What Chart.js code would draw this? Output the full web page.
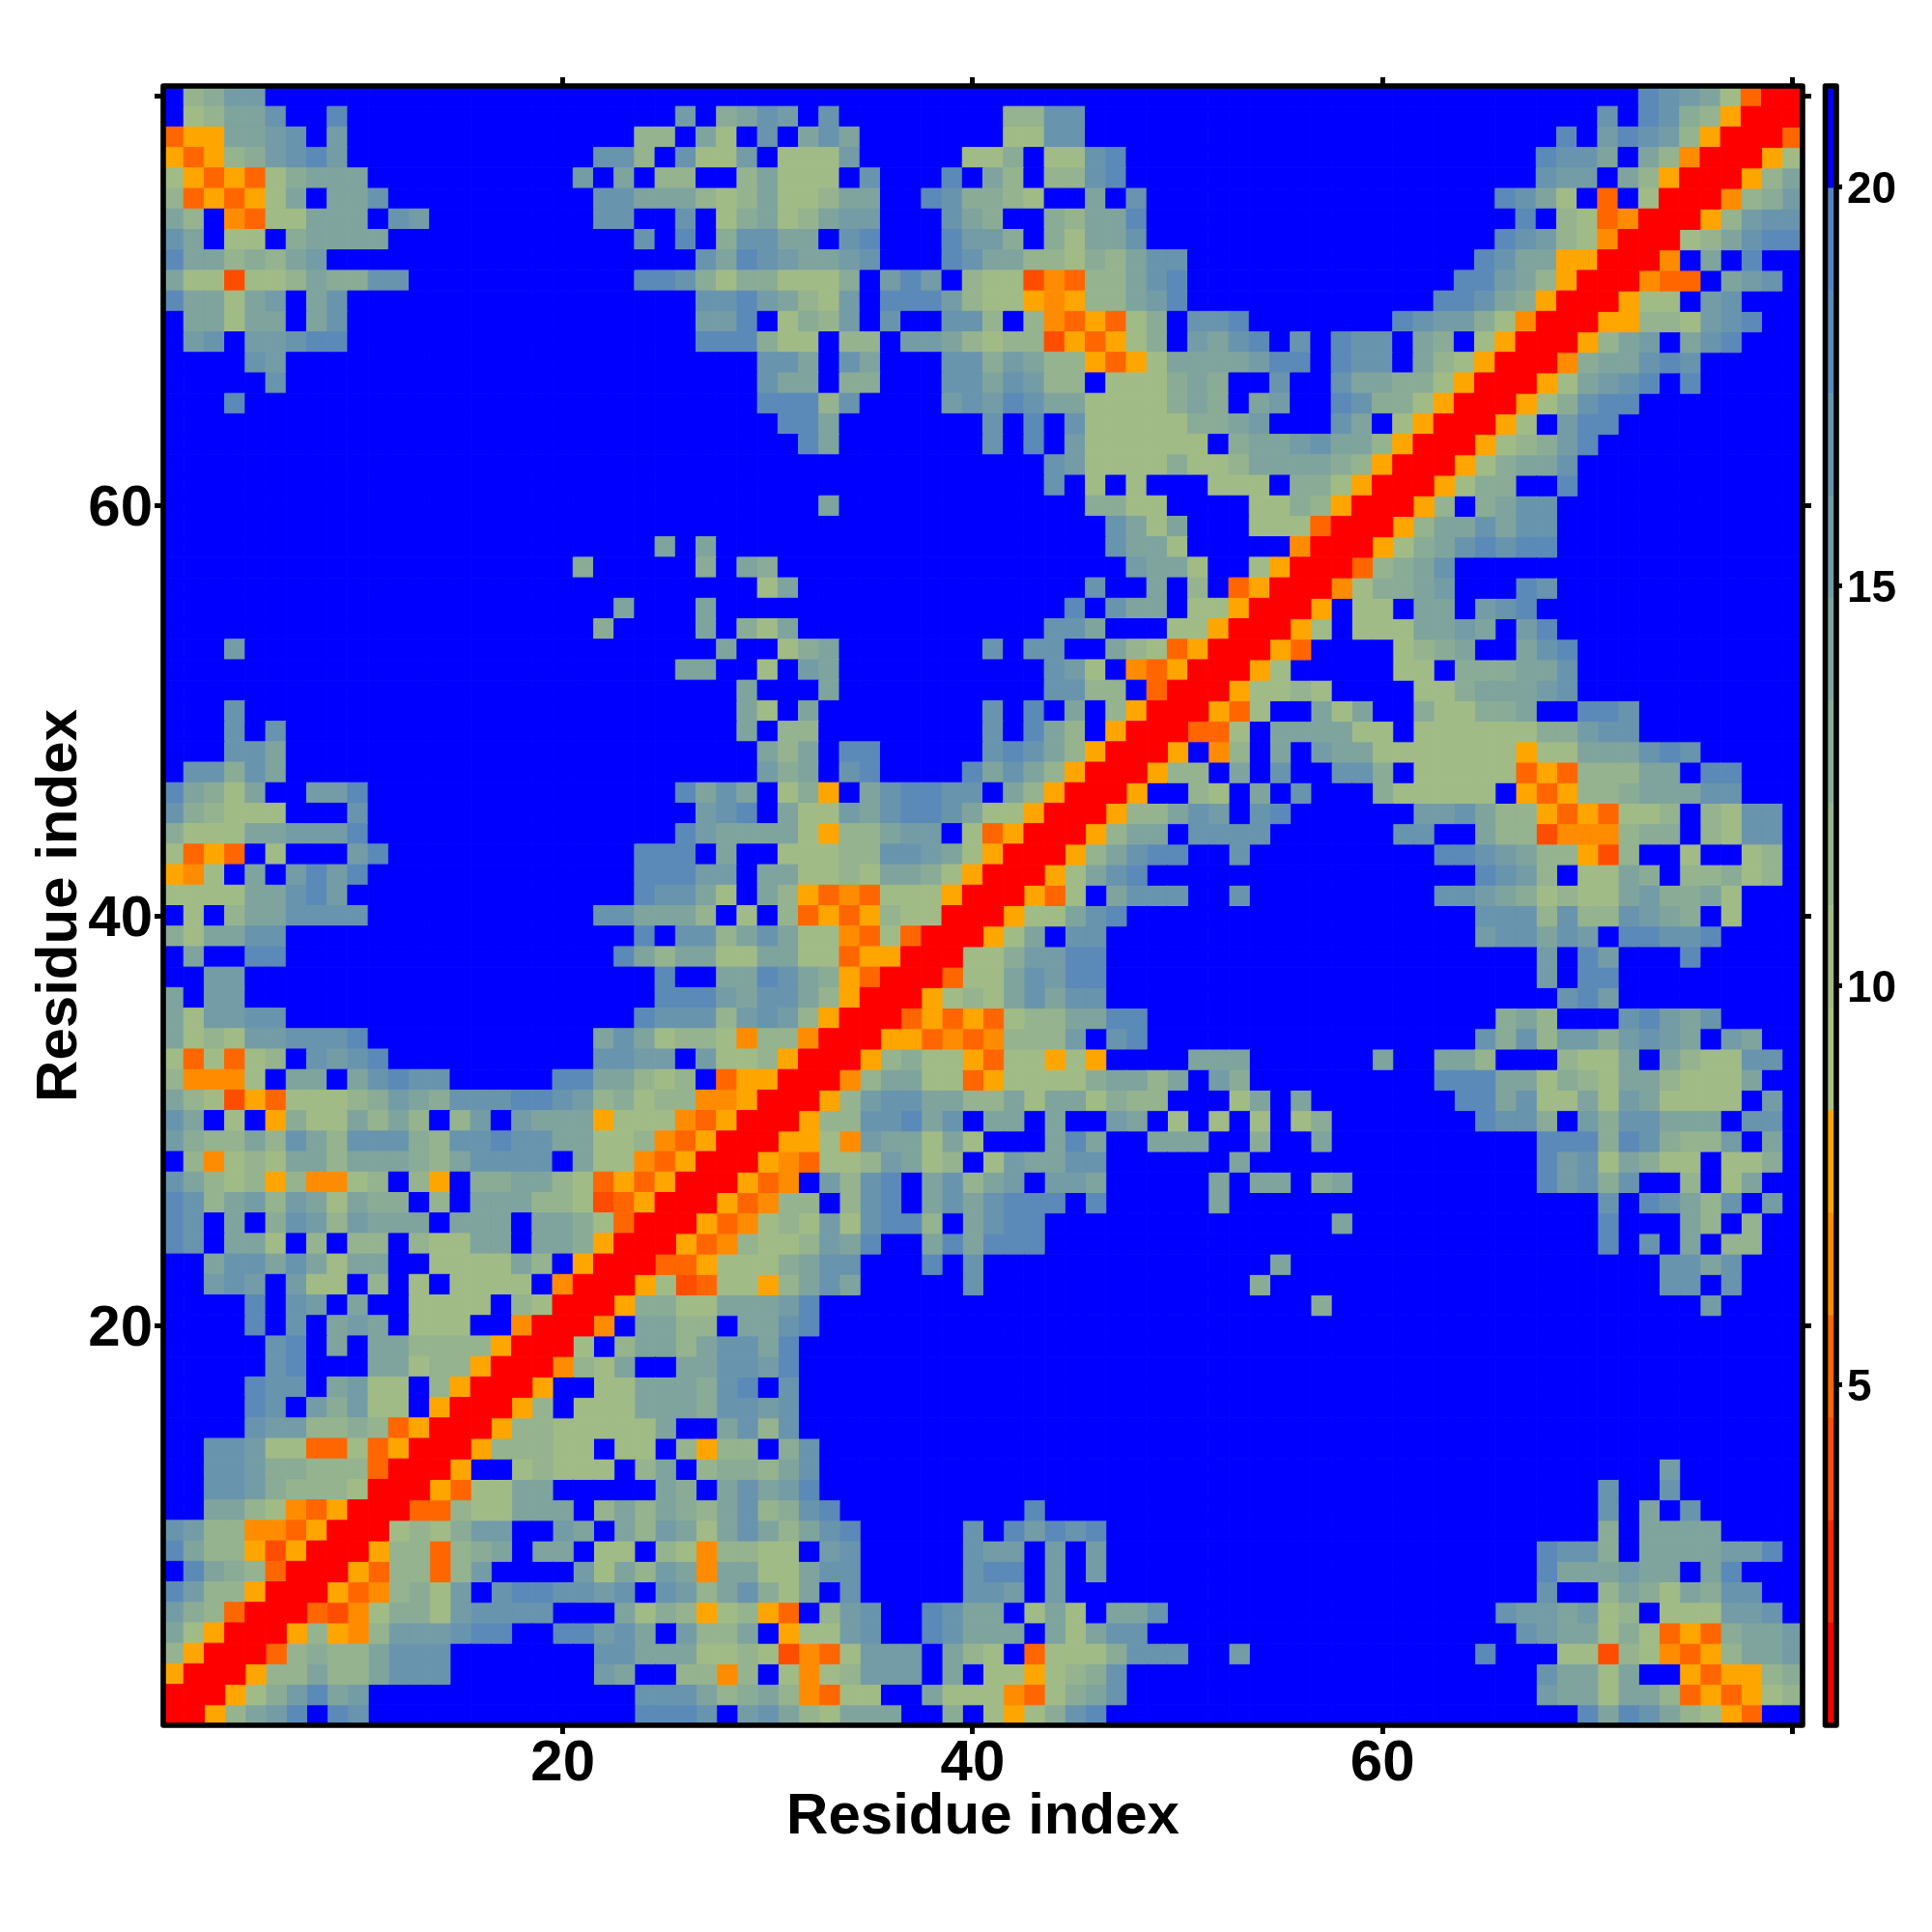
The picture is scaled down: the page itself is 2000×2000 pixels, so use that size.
<!DOCTYPE html>
<html>
<head>
<meta charset="utf-8">
<title>Residue distance map</title>
<script src="https://cdn.jsdelivr.net/npm/chart.js@4"></script>
<style>
    html, body { margin: 0; padding: 0; background: #fff; }
    #wrap { position: relative; width: 2000px; height: 2000px; }
    #map { position: absolute; left: 0; top: 0; }
    #bar { position: absolute; left: 1880px; top: 0; }
</style>
</head>
<body>
<div id="wrap">
    <canvas id="map" width="2000" height="2000"></canvas>
    <canvas id="bar" width="120" height="2000"></canvas>
</div>
<script>
// Colour band of every cell, one row per residue from 80 down to 1.
// The map is symmetric, so a row only holds columns 1..y. Digits are grouped in nines, f is the top band.
const levelRows = [
    "f89bbffff fffffffff fffffffff fffffffff fffffffff fffffffff fffffffff fffffffff dcba7300",
    "f78aacffd fffffffff fffffffbf 9acbfcfff fffff88cc fffffffff fffffffff fffffffcf dc98500",
    "355aabcfb fffffffff fffff88fa 7fcfacaff fffff77cc fffffffff fffffffff fffffdfbd cb8500",
    "53589bcdb fffffffff fffcc8fc7 7bf777bff fff779f77 cdfffffff fffffffff ffffdccaf a8400",
    "7535379aa affffffff ffbfaf88f f8a777fcf ffdfa8f88 cdfffffff fffffffff ffffcbbfa 8500",
    "835357afa acfffffff fffccaaa8 78a778aaf fdc9987ff afcffffff fffffffff ffdca7f3f 700",
    "a8f4377aa afcbfffff fffccffcf 79a78abbf ffca9ff98 aadffffff fffffffff fffdf8734 00",
    "caf77f9aa aafffffff fffffcfdf 9ccaafcdf ffdbb9f97 aacffffff fffffffff ffdcb8740 0",
    "daa898abf fffffffff ffffffffc adcbaabcf ffdcaa887 98accffff fffffffff fdcaa5500",
    "a772778a9 9ccffffff fffffddc9 7997779fb dbf877243 88acdffff fffffffff ddba8500",
    "daa7abfac fffffffff ffffffffc cdba87bfd ddb877545 88abdffff ffffffffd dca9500",
    "faa7aafac fffffffff ffffffffb bdf798bfc ffcc8f843 5379fccdf ffffffdcb b97400",
    "fbcfbbcdd fffffffff ffffffffd dd977f88f bba878825 3579fbacd fcfdccfa9 f7500",
    "ffffcbfff fffffffff fffffffff ffccafcaf ffcc9ba88 5357aaaab ddfdccfa8 7500",
    "fffffcfff fffffffff fffffffff ffcaaf99f ffccacb88 f7779a9ff cffcaa997 500",
    "fffdfffff fffffffff fffffffff ffddd8cff ffbcbdcaa 77779a9fa bffdc9975 00",
    "fffffffff fffffffff fffffffff fffddafff ffffcfdfc 7777799ab fffcaf750 0",
    "fffffffff fffffffff fffffffff ffffdafff ffffcfdfb 777777f9a abcaa8500",
    "fffffffff fffffffff fffffffff fffffffff fffffffcb 77779778a aaa98500",
    "fffffffff fffffffff fffffffff fffffffff fffffffcf 7f7fff777 f997500",
    "fffffffff fffffffff fffffffff fffffafff fffffffff 9977ffff7 798500",
    "fffffffff fffffffff fffffffff fffffffff fffffffff fca7afff7 77300",
    "fffffffff fffffffff ffffffafa fffffffff fffffffff fcaa7ffff f400",
    "fffffffff fffffffff ff9fffff9 fa9ffffff fffffffff ffbaa7ff7 500",
    "fffffffff fffffffff fffffffff ff7afffff fffffffff cffaf8f35 00",
    "fffffffff fffffffff ffffafffa fffffffff ffffffffd fcaaf7750 0",
    "fffffffff fffffffff fff9ffffa f97afffff fffffffcc afff77500",
    "fffbfffff fffffffff fffffffff aff79afff ffffcfccf fa873500",
    "fffffffff fffffffff fffffffaa ff7fbafff fffffffcb 7f43500",
    "fffffffff fffffffff fffffffff fafffafff fffffffcc 88f300",
    "fffcfffff fffffffff fffffffff fa7faffff ffffcfdfa f8500",
    "fffcfcfff fffffffff fffffffff faf88ffff ffffcfda8 f500",
    "fffccafff fffffffff fffffffff ffa8afddf ffffcdca8 500",
    "fcc9cafff fffffffff fffffffff ffb9afcdf fffdaca85 00",
    "da97affbb dffffffff fffffffda caf795fac ddccfa850 0",
    "c98777fff cffffffff ffffffffb cdfa77bac ddca77500",
    "9777aabbb dffffffff fffffffdb aaaa7588a bbf73500",
    "7353f7fff bdfffffff fffffdddf aff77788c cba7500",
    "547fafbdb dffffffff fffffdddb bfaa7787a a97500",
    "7777aacdb fffffffff fffffdcca 7fa853437 77500",
    "f7f8aaccc cffffffff fffccaaa8 f7f835358 7700",
    "97aaccfff fffffffff fffffdfcc 8aca77437 300",
    "faffddfff fffffffff ffffda8aa 77aa77355 00",
    "ffbbfffff fffffffff ffffffdff aadca9530 0",
    "afbbfffff fffffffff ffffffddd bacca8500",
    "a7bbccfff fffffffff fffffdccc 8bcb8500",
    "a787bbccc dffffffff fffaca788 7488400",
    "737378fcb cdfffffff fffccbbfb 778500",
    "84447faaf acdccffff fddaa878f 35500",
    "a87253777 89ba9cccd dcb897884 4500",
    "caf7f5977 a8a8f8bfb aaa577743 500",
    "b988a8ca8 ccc98ccdc caa778435 00",
    "f84787aa8 aaa98accc cfa774350 0",
    "ca8785844 78f85f99a a87353500",
    "dc8ab8ba7 a99f8faaa 88723500",
    "dcfaf9cb8 baaafaaaf aa97300",
    "dcfaa7f8f 88f877aaf aa9500",
    "ffaccaca7 aaff7777a 8f500",
    "ffbcbfb77 f8f7f7777 f400",
    "ffffdfcbf aff7777f8 700",
    "ffffdfcfa baf777ff4 00",
    "fffffcdfa faa888850 0",
    "fffffcdff faa788500",
    "ffffdccfa b77f8500",
    "ffffdcfb9 b77f500",
    "ffffcbb88 983500",
    "ffccb7733 73500",
    "ffccb9988 8300",
    "ffccb9888 700",
    "ffaa87435 00",
    "cb8844350 0",
    "da8852500",
    "fda98300",
    "db88500",
    "b98300",
    "a7500",
    "8500",
    "500",
    "00",
    "0"
];

// Colour bar: upper and lower edge of the 16 bands, and their ticks
const levelBreaks = [0.74, 2.02, 3.31, 4.59, 5.87, 7.15, 8.44, 9.72, 11.0, 12.28, 13.57, 14.85, 16.13, 17.41, 18.7, 19.98, 21.26];
const barTicks = [5, 10, 15, 20];

// Axes
const axisTicks = [20, 40, 60, 80];
const axisLabels = [20, 40, 60];
const axisTitle = 'Residue index';

const levelColors = [
    '#ff0000', '#ff2a00', '#ff4d00', '#ff6600', '#ff8c00', '#ffa500',
    '#a8c082', '#a1bb87', '#95b38e', '#8aac96', '#7fa49e', '#749ca6', '#6994ae', '#5c8ab8', '#5384be',
    '#0000ff'
];

// Expand the triangle to all cells
const cells = [];
levelRows.forEach((row, i) => {
    const y = 80 - i;
    const digits = row.replace(/ /g, '');
    if (digits.length !== y) console.error('row ' + y + ' has ' + digits.length + ' cells');
    for (let x = 1; x <= digits.length; x++) {
        const level = parseInt(digits[x - 1], 16);
        cells.push({ x: x, y: y, level: level });
        if (x !== y) cells.push({ x: y, y: x, level: level });
    }
});

const fontFamily = '"Liberation Sans", Arial, sans-serif';
const black = '#000000';

// Rounded box round the plot
const framePlugin = {
    id: 'frame',
    afterDatasetsDraw(chart) {
        const { ctx, chartArea } = chart;
        ctx.save();
        ctx.strokeStyle = black;
        ctx.lineWidth = 5.6;
        ctx.lineJoin = 'round';
        ctx.strokeRect(chartArea.left, chartArea.top, chartArea.width, chartArea.height);
        ctx.restore();
    }
};

function setAxisTicks(scale) {
    scale.ticks = axisTicks.map(v => ({ value: v }));
}

function axisLabel(value) {
    return axisLabels.includes(value) ? value : '';
}

const sharedGrid = { drawOnChartArea: false, color: black, tickWidth: 5, tickLength: 9 };

function cellColor(ctx) {
    return levelColors[ctx.raw.level];
}

new Chart(document.getElementById('map'), {
    type: 'scatter',
    data: {
        datasets: [{
            data: cells,
            pointStyle: 'rect',
            backgroundColor: cellColor,
            borderColor: cellColor,
            borderWidth: 1,
            pointRadius: ctx => {
                const s = ctx.chart.scales.x;
                return Math.abs(s.getPixelForValue(1) - s.getPixelForValue(0)) / Math.SQRT2;
            }
        }]
    },
    options: {
        responsive: false,
        animation: false,
        events: [],
        plugins: { legend: { display: false }, tooltip: { enabled: false } },
        scales: {
            x: {
                type: 'linear', position: 'bottom', min: 0.5, max: 80.5,
                afterBuildTicks: setAxisTicks,
                afterFit: s => { s.height = 214; },
                border: { display: false },
                grid: sharedGrid,
                ticks: { callback: axisLabel, color: black, padding: -5, maxRotation: 0, autoSkip: false,
                    font: { family: fontFamily, weight: 'bold', size: 60 } },
                title: { display: true, text: axisTitle, color: black, padding: { top: 0, bottom: 83 },
                    font: { family: fontFamily, weight: 'bold', size: 60 } }
            },
            x2: {
                type: 'linear', position: 'top', min: 0.5, max: 80.5,
                afterBuildTicks: setAxisTicks,
                afterFit: s => { s.height = 89; },
                border: { display: false },
                grid: sharedGrid,
                ticks: { display: false }
            },
            y: {
                type: 'linear', position: 'left', min: 0.5, max: 80.5,
                afterBuildTicks: setAxisTicks,
                afterFit: s => { s.width = 169; },
                border: { display: false },
                grid: sharedGrid,
                ticks: { callback: axisLabel, color: black, padding: 2, labelOffset: 4, autoSkip: false,
                    font: { family: fontFamily, weight: 'bold', size: 60 } },
                title: { display: true, text: axisTitle, color: black, padding: { top: 26, bottom: 0 },
                    font: { family: fontFamily, weight: 'bold', size: 60 } }
            },
            y2: {
                type: 'linear', position: 'right', min: 0.5, max: 80.5,
                afterBuildTicks: setAxisTicks,
                afterFit: s => { s.width = 134; },
                border: { display: false },
                grid: sharedGrid,
                ticks: { display: false }
            }
        }
    },
    plugins: [framePlugin]
});

// Colour bar, one floating bar per band
new Chart(document.getElementById('bar'), {
    type: 'bar',
    data: {
        labels: ['levels'],
        datasets: levelColors.map((color, i) => ({
            data: [[levelBreaks[i], levelBreaks[i + 1]]],
            backgroundColor: color,
            borderWidth: 0,
            barPercentage: 1,
            categoryPercentage: 1
        }))
    },
    options: {
        responsive: false,
        animation: false,
        events: [],
        layout: { padding: { left: 9.5, top: 89, bottom: 214 } },
        plugins: { legend: { display: false }, tooltip: { enabled: false } },
        scales: {
            x: { display: false, stacked: true },
            y: {
                position: 'right', min: levelBreaks[0], max: levelBreaks[levelBreaks.length - 1],
                afterBuildTicks: s => { s.ticks = barTicks.map(v => ({ value: v })); },
                afterFit: s => { s.width = 99; },
                border: { display: false },
                grid: { drawOnChartArea: false, color: black, tickWidth: 5, tickLength: 6 },
                ticks: { color: black, padding: 5, labelOffset: 4, autoSkip: false,
                    font: { family: fontFamily, weight: 'bold', size: 46 } }
            }
        }
    },
    plugins: [framePlugin]
});
</script>
</body>
</html>
